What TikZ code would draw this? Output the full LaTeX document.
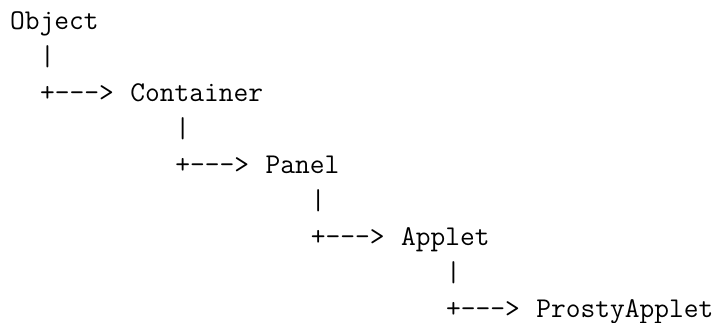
\documentclass[tikz,border=0pt]{standalone}
\begin{document}
\begin{tikzpicture}[x=1pt,y=-1pt,
  txt/.style={anchor=base west,inner sep=0pt,outer sep=0pt,font=\fontsize{28.65}{36}\selectfont\ttfamily}]
\useasboundingbox (0,0) rectangle (717,323);
\def\cw{15.04}
\def\xo{10}
\def\lh{36}
\def\yo{29.3}
\def\arr{+\mbox{-}\mbox{-}\mbox{-}>}
\node[txt] (object) at (\xo,\yo) {Object};
\node[txt] (v1) at ({\xo+2*\cw},{\yo+1*\lh}) {|};
\node[txt] (a1) at ({\xo+2*\cw},{\yo+2*\lh}) {\arr};
\node[txt] (container) at ({\xo+8*\cw},{\yo+2*\lh}) {Container};
\node[txt] (v2) at ({\xo+11*\cw},{\yo+3*\lh}) {|};
\node[txt] (a2) at ({\xo+11*\cw},{\yo+4*\lh}) {\arr};
\node[txt] (panel) at ({\xo+17*\cw},{\yo+4*\lh}) {Panel};
\node[txt] (v3) at ({\xo+20*\cw},{\yo+5*\lh}) {|};
\node[txt] (a3) at ({\xo+20*\cw},{\yo+6*\lh}) {\arr};
\node[txt] (applet) at ({\xo+26*\cw},{\yo+6*\lh}) {Applet};
\node[txt] (v4) at ({\xo+29*\cw},{\yo+7*\lh}) {|};
\node[txt] (a4) at ({\xo+29*\cw},{\yo+8*\lh}) {\arr};
\node[txt] (prosty) at ({\xo+35*\cw},{\yo+8*\lh}) {ProstyApplet};
\end{tikzpicture}
\end{document}
